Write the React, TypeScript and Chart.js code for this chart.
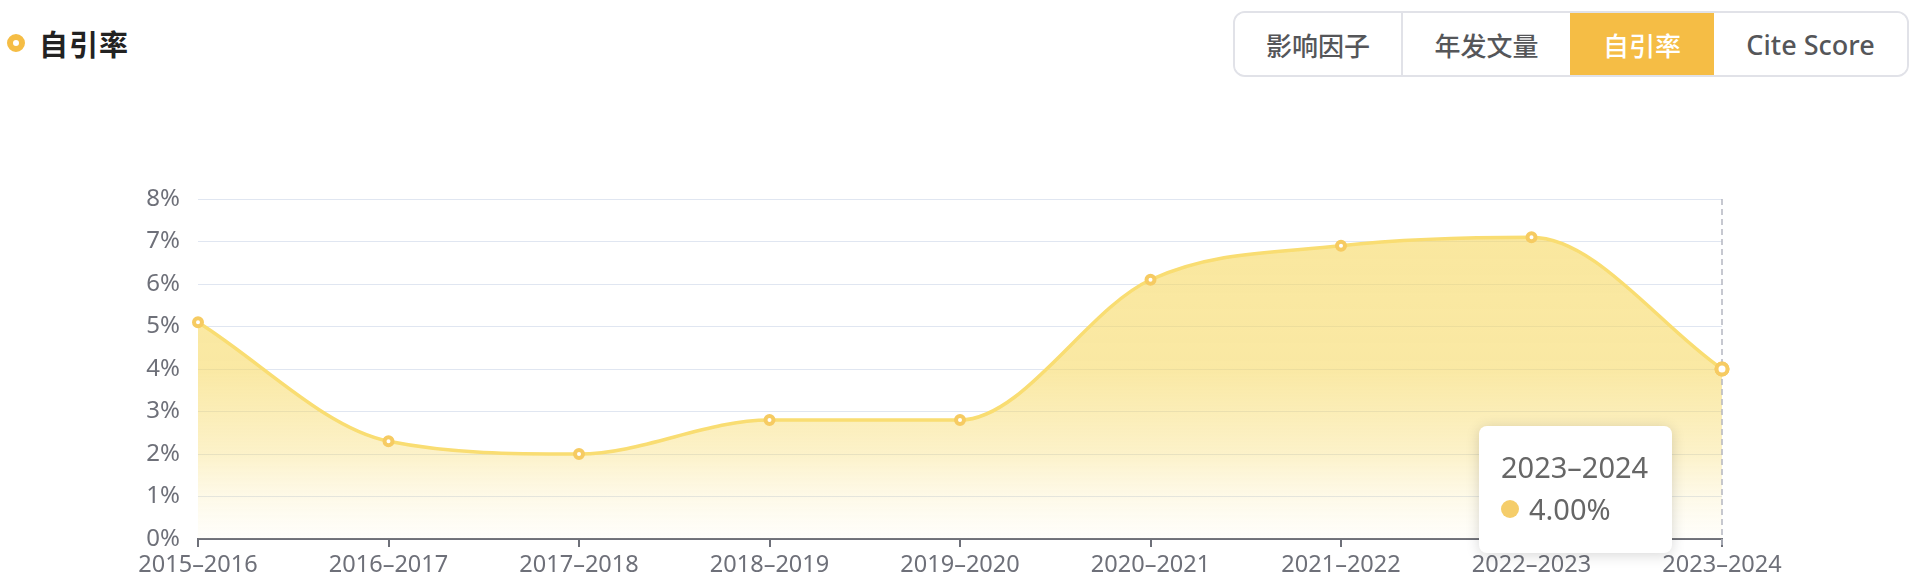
import React, { useEffect, useRef, useState } from 'react';
import { Chart, registerables } from 'chart.js';

Chart.register(...registerables);

const categories = ['2015–2016', '2016–2017', '2017–2018', '2018–2019', '2019–2020', '2020–2021', '2021–2022', '2022–2023', '2023–2024'];
const selfCitationRate = [5.1, 2.3, 2.0, 2.8, 2.8, 6.1, 6.9, 7.1, 4.0];
const yMin = 0;
const yMax = 8;
const yStep = 1;
const tabs = ['影响因子', '年发文量', '自引率', 'Cite Score'];
const tabWidths = [168, 169, 144, 195];
const activeTab = 2;
const activeIndex = 8;
const pageTitle = '自引率';

const LATIN = '"Noto Sans", "Noto Sans CJK SC", sans-serif';
const CJK = '"Noto Sans CJK SC", "Noto Sans", sans-serif';

const dashedLinePlugin = {
  id: 'dashedHover',
  afterDatasetsDraw(chart: any) {
    const pt = chart.getDatasetMeta(0).data[activeIndex];
    if (!pt) return;
    const { ctx, chartArea } = chart;
    ctx.save();
    ctx.strokeStyle = '#B4B7C1';
    ctx.lineWidth = 1.5;
    ctx.setLineDash([6, 4]);
    ctx.beginPath();
    ctx.moveTo(Math.round(pt.x), chartArea.top);
    ctx.lineTo(Math.round(pt.x), chartArea.bottom + 8);
    ctx.stroke();
    ctx.restore();
    pt.draw(ctx, chartArea);
  },
};

export default function App() {
  const ref = useRef<HTMLCanvasElement>(null);
  const [tip, setTip] = useState<{ x: number; y: number } | null>(null);

  useEffect(() => {
    const chart = new Chart(ref.current!, {
      type: 'line',
      data: {
        labels: categories,
        datasets: [
          {
            data: selfCitationRate,
            borderColor: '#F9DD72',
            borderWidth: 3.5,
            cubicInterpolationMode: 'monotone',
            fill: 'origin',
            backgroundColor: (ctx: any) => {
              const { chart } = ctx;
              const area = chart.chartArea;
              if (!area) return 'rgba(248,220,110,0.5)';
              const g = chart.ctx.createLinearGradient(0, area.top, 0, area.bottom);
              g.addColorStop(0, 'rgba(246,215,92,0.6)');
              g.addColorStop(0.5, 'rgba(246,215,92,0.56)');
              g.addColorStop(0.75, 'rgba(246,215,92,0.33)');
              g.addColorStop(1, 'rgba(250,235,170,0.05)');
              return g;
            },
            pointRadius: (ctx: any) => (ctx.dataIndex === activeIndex ? 5.5 : 4),
            pointBorderWidth: 4,
            pointBackgroundColor: '#FFFFFF',
            pointBorderColor: '#F6CB62',
            pointHoverRadius: 5.5,
          } as any,
        ],
      },
      options: {
        responsive: false,
        animation: false,
        events: [],
        layout: { padding: { top: 199, right: 196, left: 0, bottom: 0 } },
        plugins: {
          legend: { display: false },
          tooltip: { enabled: false },
        },
        scales: {
          x: {
            type: 'category',
            offset: false,
            afterFit: (s: any) => {
              s.height = 41;
            },
            grid: {
              drawOnChartArea: false,
              drawTicks: true,
              tickLength: 8,
              color: '#6E7079',
              lineWidth: 2,
            },
            border: { display: true, color: '#6E7079', width: 2 },
            ticks: {
              color: '#6E7079',
              font: { family: LATIN, size: 23.5 },
              padding: 4,
              maxRotation: 0,
              autoSkip: false,
            },
          },
          y: {
            min: yMin,
            max: yMax,
            afterFit: (s: any) => {
              s.width = 198;
            },
            grid: { color: '#E0E6F1', lineWidth: 1, drawTicks: false },
            border: { display: false },
            ticks: {
              stepSize: yStep,
              color: '#6E7079',
              padding: 18,
              font: { family: LATIN, size: 24 },
              callback: (v: any) => `${v}%`,
            },
          },
        },
      },
      plugins: [dashedLinePlugin],
    } as any);
    const pt = chart.getDatasetMeta(0).data[activeIndex];
    setTip({ x: pt.x, y: pt.y });
    return () => chart.destroy();
  }, []);

  return (
    <div style={{ position: 'absolute', left: 0, top: 0, width: 1918, height: 580, background: '#fff', overflow: 'hidden' }}>
      <div
        style={{
          position: 'absolute',
          left: 7,
          top: 34,
          width: 6,
          height: 6,
          borderRadius: '50%',
          border: '6px solid #F5BD45',
          boxSizing: 'content-box',
          background: '#fff',
        }}
      />
      <div
        style={{
          position: 'absolute',
          left: 39,
          top: 22,
          height: 42,
          lineHeight: '42px',
          fontFamily: CJK,
          fontWeight: 700,
          fontSize: 29,
          color: '#222',
          letterSpacing: 1,
        }}
      >
        {pageTitle}
      </div>
      <div
        style={{
          position: 'absolute',
          left: 1233,
          top: 11,
          width: 1909 - 1233,
          height: 66,
          border: '2px solid #E1E2E8',
          borderRadius: 12,
          boxSizing: 'border-box',
          overflow: 'hidden',
          display: 'flex',
        }}
      >
        {tabs.map((t, i) => (
          <div
            key={t}
            style={{
              width: tabWidths[i] - (i === 0 ? 2 : 0) - (i === tabs.length - 1 ? 2 : 0),
              flex: 'none',
              height: '100%',
              display: 'flex',
              alignItems: 'center',
              justifyContent: 'center',
              background: i === activeTab ? '#F5BD45' : '#fff',
              color: i === activeTab ? '#fff' : '#555659',
              borderLeft: i > 0 && i !== activeTab && i - 1 !== activeTab ? '2px solid #E1E2E8' : 'none',
              boxSizing: 'border-box',
              fontFamily: /[A-Za-z]/.test(t) ? LATIN : CJK,
              fontWeight: 500,
              fontSize: /[A-Za-z]/.test(t) ? 27 : 26,
            }}
          >
            {t}
          </div>
        ))}
      </div>
      <canvas
        ref={ref}
        width={1918}
        height={580}
        style={{ position: 'absolute', left: 0, top: 0, width: 1918, height: 580 }}
      />
      {tip && (
        <div
          style={{
            position: 'absolute',
            left: tip.x - 243,
            top: tip.y + 57,
            width: 193,
            height: 127,
            boxSizing: 'border-box',
            background: '#fff',
            borderRadius: 8,
            boxShadow: '0 2px 14px rgba(0,0,0,0.16)',
            padding: '20px 0 0 22px',
            fontFamily: LATIN,
            fontSize: 29,
            color: '#666',
            lineHeight: '42px',
          }}
        >
          <div>{categories[activeIndex]}</div>
          <div style={{ display: 'flex', alignItems: 'center' }}>
            <span
              style={{
                display: 'inline-block',
                width: 18,
                height: 18,
                borderRadius: '50%',
                background: '#F5CD6A',
                marginRight: 10,
              }}
            />
            <span>{selfCitationRate[activeIndex].toFixed(2)}%</span>
          </div>
        </div>
      )}
    </div>
  );
}
